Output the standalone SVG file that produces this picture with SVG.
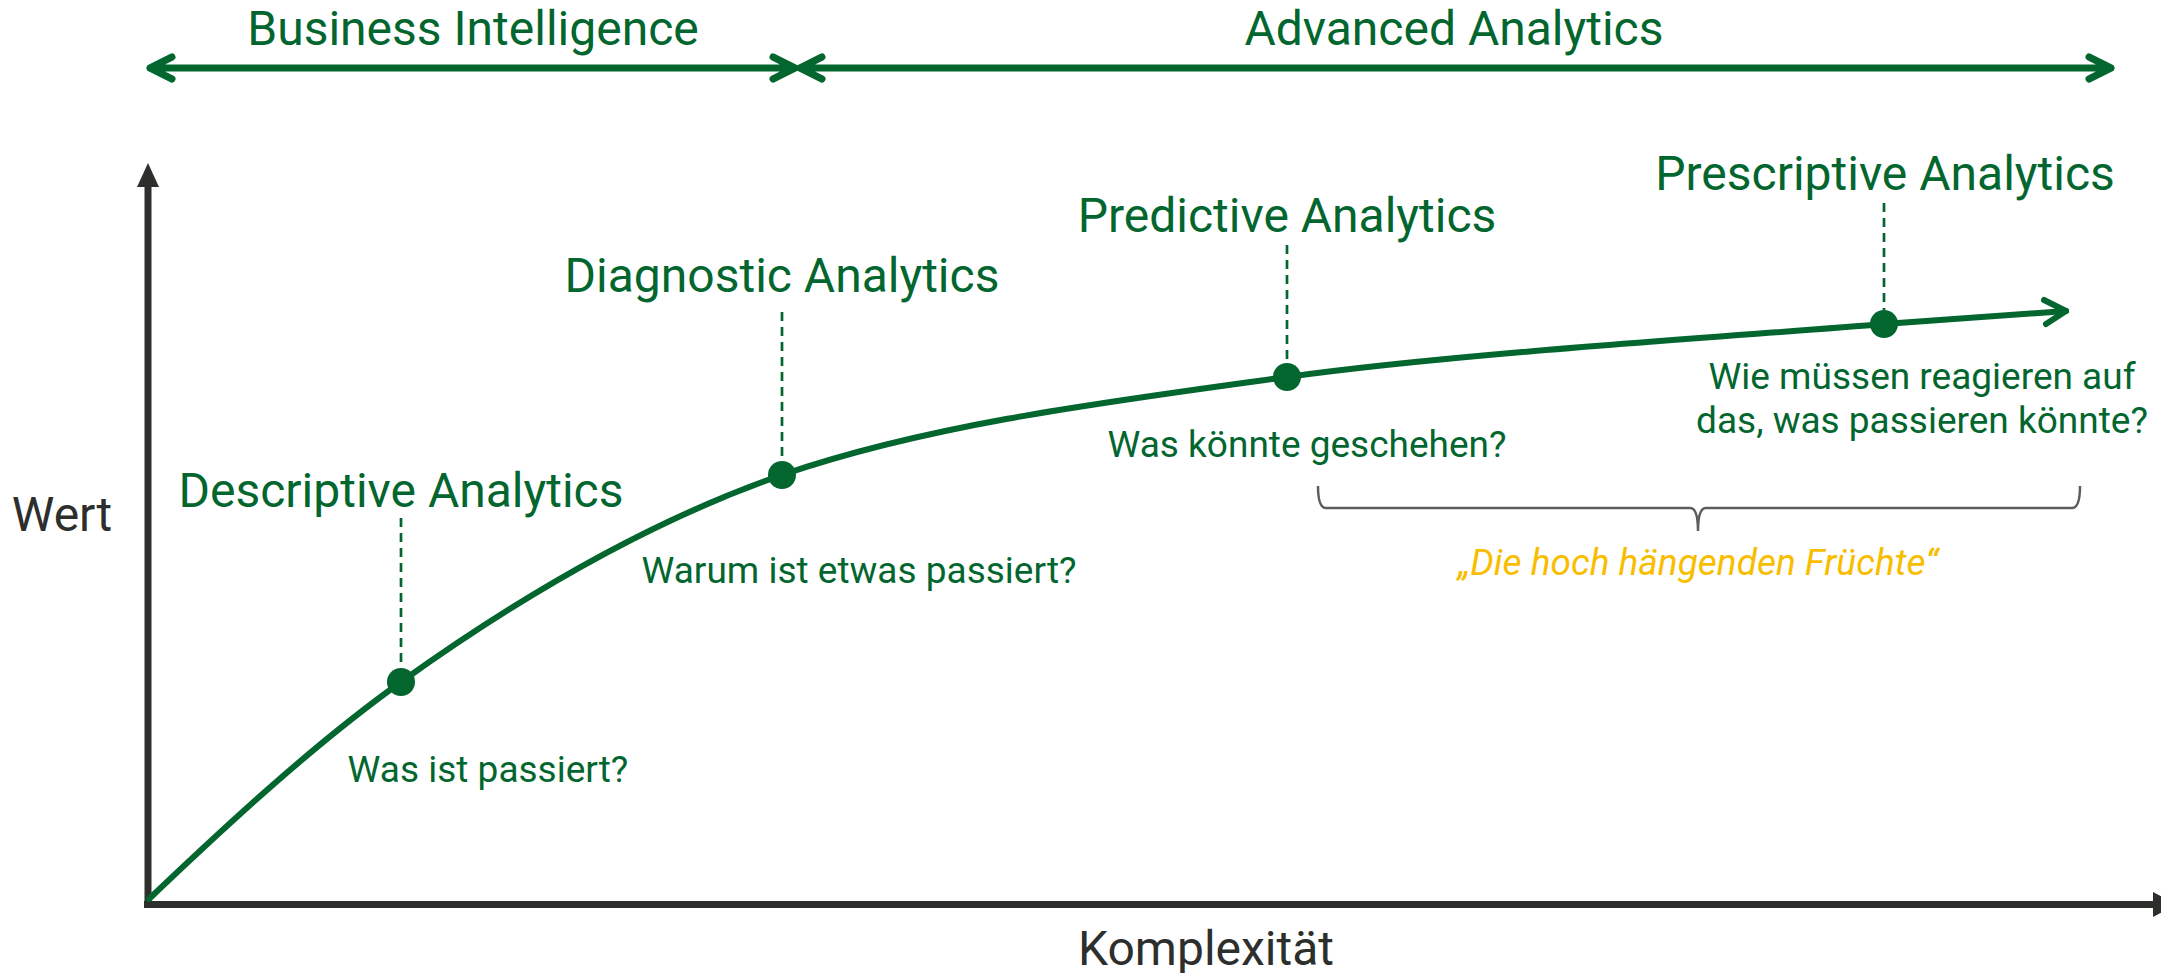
<svg xmlns="http://www.w3.org/2000/svg" width="2161" height="973" viewBox="0 0 2161 973">
<style>
  .head { font-family: Roboto, "Liberation Sans", sans-serif; font-size: 48px; fill: #03662f; text-anchor: middle; }
  .q { font-family: Roboto, "Liberation Sans", sans-serif; font-size: 37px; fill: #03662f; text-anchor: middle; }
  .axlbl { font-family: Roboto, "Liberation Sans", sans-serif; font-size: 48px; fill: #2d2f2c; text-anchor: middle; }
  .gold { font-family: Roboto, "Liberation Sans", sans-serif; font-size: 37px; font-style: italic; fill: #f9bd00; text-anchor: middle; }
  .axis { stroke: #2d2f2c; stroke-width: 7; fill: none; }
  .axhead { fill: #2d2f2c; }
  .range { stroke: #03662f; stroke-width: 7; fill: none; stroke-linecap: round; stroke-linejoin: round; }
  .curve { stroke: #03662f; stroke-width: 6; fill: none; stroke-linecap: round; stroke-linejoin: round; }
  .dash { stroke: #03662f; stroke-width: 2.7; stroke-dasharray: 9 6; fill: none; }
  .dot { fill: #03662f; }
  .brace { stroke: #5b5f5b; stroke-width: 2.5; fill: none; }
</style>

<g id="ranges">
  <text class="head" x="473" y="45">Business Intelligence</text>
  <path class="range" d="M150 68 H795 M172 57 L150 68 L172 79 M773 57 L795 68 L773 79"/>
  <text class="head" x="1454" y="45">Advanced Analytics</text>
  <path class="range" d="M800 68 H2111 M822 57 L800 68 L822 79 M2089 57 L2111 68 L2089 79"/>
</g>

<g id="axes">
  <path class="axis" d="M148 908 V185"/>
  <polygon class="axhead" points="148,163 137,187 159,187"/>
  <path class="axis" d="M144 904.5 H2155"/>
  <polygon class="axhead" points="2176,904.5 2153,892 2153,917"/>
  <text class="axlbl" x="62" y="531">Wert</text>
  <text class="axlbl" x="1206" y="965">Komplexität</text>
</g>

<g id="connectors">
  <path class="curve" d="M149 899 C233 819 317 742 401 682 C528 591 655 519 782 475 C929.7 424.2 1103.3 402.2 1287 377 C1470.7 351.8 1754 335 1884 324 L2066 311"/>
  <path class="curve" d="M2044 300 L2066 311 L2046 324"/>
  <line class="dash" x1="401" y1="518" x2="401" y2="668"/>
  <line class="dash" x1="782" y1="312" x2="782" y2="461"/>
  <line class="dash" x1="1287" y1="245" x2="1287" y2="363"/>
  <line class="dash" x1="1884" y1="203" x2="1884" y2="310"/>
</g>

<g id="descriptive">
  <text class="head" x="401" y="507">Descriptive Analytics</text>
  <circle class="dot" cx="401" cy="682" r="14"/>
  <text class="q" x="488" y="782">Was ist passiert?</text>
</g>

<g id="diagnostic">
  <text class="head" x="782" y="292">Diagnostic Analytics</text>
  <circle class="dot" cx="782" cy="475" r="14"/>
  <text class="q" x="859" y="583">Warum ist etwas passiert?</text>
</g>

<g id="predictive">
  <text class="head" x="1287" y="232">Predictive Analytics</text>
  <circle class="dot" cx="1287" cy="377" r="14"/>
  <text class="q" x="1307" y="457">Was könnte geschehen?</text>
</g>

<g id="prescriptive">
  <text class="head" x="1885" y="190">Prescriptive Analytics</text>
  <circle class="dot" cx="1884" cy="324" r="14"/>
  <text class="q" x="1922" y="389">Wie müssen reagieren auf</text>
  <text class="q" x="1922" y="433">das, was passieren könnte?</text>
</g>

<g id="brace-group">
  <path class="brace" d="M1318 486 Q1318 508 1326 508 H1690 Q1698 508 1698 531 Q1698 508 1706 508 H2072 Q2080 508 2080 486"/>
  <text class="gold" x="1698" y="575">„Die hoch hängenden Früchte“</text>
</g>
</svg>
